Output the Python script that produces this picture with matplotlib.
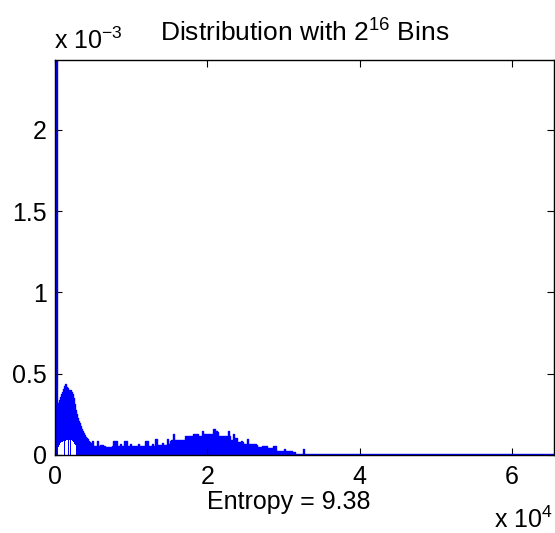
import numpy as np
import matplotlib
matplotlib.use("Agg")
import matplotlib.pyplot as plt

plt.rcParams['font.family'] = ['Liberation Sans', 'DejaVu Sans']
plt.rcParams['mathtext.fontset'] = 'custom'
plt.rcParams['mathtext.rm'] = 'Liberation Sans'
plt.rcParams['mathtext.it'] = 'Liberation Sans'

N_BINS = 65536

# bin index (left edge of each step) and probability envelope (x 1e-3)
bins = [1, 262, 393, 524, 655, 786, 917, 1048, 1179, 1310, 1441, 1572, 1703, 1834,
        1965, 2096, 2227, 2358, 2489, 2620, 2751, 2882, 3013, 3144, 3275, 3406,
        3537, 3668, 3799, 3930, 4061, 4192, 4323, 4454, 4585, 4716,
        4847, 4978, 5240, 5502, 5633, 5895, 6288, 6550, 7467, 7598, 8122, 8515,
        8646, 9039, 9432, 9825, 9956, 10873, 11004, 11790, 12183, 12707, 12838,
        13100, 13362, 14017, 14148, 14672, 14803, 15065, 15196, 15458, 15589,
        15720, 16768, 17030, 17947, 18078, 18602, 18733, 19257, 19388, 19650,
        20567, 20698, 21026, 21222, 21353, 21615, 22270, 22663, 22794, 22925,
        23318, 23449, 23842, 24366, 24497, 24628, 25152, 25283, 25545, 26200,
        26462, 26593, 27248, 27772, 27903, 28689, 28951, 29082, 30130, 30261,
        31178, 31571, 32620, 32751, 65536]
upper = [2.43, 0.247, 0.321, 0.340, 0.358, 0.377, 0.389, 0.407, 0.426, 0.438,
         0.420, 0.414, 0.401, 0.395, 0.401, 0.389, 0.377, 0.352, 0.315, 0.278,
         0.253, 0.228, 0.210, 0.198, 0.179, 0.160, 0.148, 0.136, 0.123, 0.111,
         0.105, 0.099, 0.086, 0.080, 0.074, 0.068,
         0.086, 0.056, 0.056, 0.086, 0.056, 0.060, 0.056, 0.050, 0.056, 0.086,
         0.056, 0.068, 0.056, 0.086, 0.056, 0.068, 0.056, 0.068, 0.056, 0.086,
         0.056, 0.068, 0.056, 0.099, 0.062, 0.074, 0.062, 0.099, 0.068, 0.086,
         0.093, 0.130, 0.093, 0.093, 0.093, 0.117, 0.117, 0.130, 0.130, 0.117,
         0.148, 0.130, 0.130, 0.130, 0.160, 0.148, 0.142, 0.117, 0.117, 0.117,
         0.148, 0.117, 0.093, 0.130, 0.105, 0.080, 0.086, 0.080, 0.068, 0.099,
         0.068, 0.068, 0.068, 0.062, 0.049, 0.056, 0.056, 0.043, 0.056, 0.056,
         0.025, 0.037, 0.025, 0.019, 0.008, 0.037, 0.008, 0.008]
# lower envelope of the oscillating curve near the first peak (x 1e-3)
lower_peak = [0, 0, 0.049, 0.062, 0.074, 0.077, 0.080, 0.086, 0, 0.088, 0.090,
              0.093, 0, 0.093, 0, 0.090, 0.086, 0.080, 0.068, 0.062, 0]
lower = lower_peak + [0] * (len(bins) - len(lower_peak))

y_max = 2.43e-3
xticks = [0, 20000, 40000, 60000]
xticklabels = ['0', '2', '4', '6']
yticks = [0, 0.5e-3, 1e-3, 1.5e-3, 2e-3]
yticklabels = ['0', '0.5', '1', '1.5', '2']
title = r'Distribution with 2$^{16}$ Bins'
xlabel = 'Entropy = 9.38'

W, H = 555, 533
fig = plt.figure(figsize=(W / 100, H / 100), dpi=100)
ax = fig.add_axes([55 / W, (H - 455) / H, (554 - 55) / W, (455 - 60) / H])

x = np.array(bins, dtype=float)
up = np.array(upper) * 1e-3
lo = np.array(lower) * 1e-3
ax.fill_between(x, lo, up, step='post', color='#0000ff', linewidth=0)
ax.step(x, up, where='post', color='#0000ff', linewidth=1.0)

ax.set_xlim(0, N_BINS)
ax.set_ylim(0, y_max)
ax.set_xticks(xticks)
ax.set_xticklabels(xticklabels)
ax.set_yticks(yticks)
ax.set_yticklabels(yticklabels)
ax.tick_params(direction='in', length=5, width=0.8, top=True, right=True,
               labelsize=18, colors='black')
ax.tick_params(axis='x', pad=7)
ax.tick_params(axis='y', pad=6)
for s in ax.spines.values():
    s.set_linewidth(1.0)
    s.set_color('black')

fig.text(305 / W, 1 - 42 / H, title, ha='center', va='baseline', fontsize=19)
fig.text(54 / W, 1 - 49 / H, r'x 10$^{\mathregular{-3}}$', ha='left', va='baseline', fontsize=18)
fig.text(289 / W, 1 - 509 / H, xlabel, ha='center', va='baseline', fontsize=18)
fig.text(553 / W, 1 - 528 / H, r'x 10$^{\mathregular{4}}$', ha='right', va='baseline', fontsize=18)

fig.savefig('out.png', dpi=100)
